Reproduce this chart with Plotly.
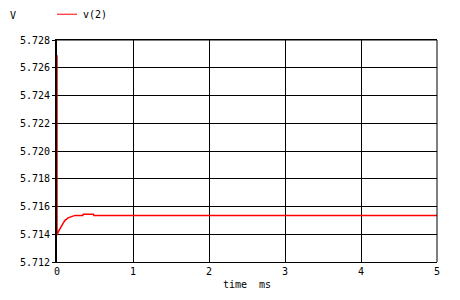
import plotly.graph_objects as go

# time in ms, voltage in V
time_ms = [0.0, 0.0, 0.02, 0.053, 0.08, 0.106, 0.146, 0.2, 0.24, 0.34, 0.345, 0.48, 0.485, 1.0, 2.0, 3.0, 4.0, 5.0]
v2 = [5.7269, 5.71393, 5.71421, 5.71457, 5.71479, 5.7150, 5.71518, 5.71529, 5.71536, 5.71536,
      5.71544, 5.71544, 5.71536, 5.71536, 5.71536, 5.71536, 5.71536, 5.71536]

x_ticks = [0, 1, 2, 3, 4, 5]
y_ticks = [5.712, 5.714, 5.716, 5.718, 5.720, 5.722, 5.724, 5.726, 5.728]
y_labels = ["5.712", "5.714", "5.716", "5.718", "5.720", "5.722", "5.724", "5.726", "5.728"]

FONT = "DejaVu Sans Mono"
PW, PH = 380, 224  # plot area size in px

fig = go.Figure()
fig.add_trace(go.Scatter(x=time_ms, y=v2, mode="lines", name="v(2)",
                         line=dict(color="#ff0000", width=1.5), cliponaxis=True))

fig.update_layout(
    width=460, height=300,
    margin=dict(l=57, r=23, t=40, b=36),
    paper_bgcolor="white", plot_bgcolor="white",
    font=dict(family=FONT, size=10, color="black"),
    showlegend=False,
    xaxis=dict(range=[0, 5], tickvals=x_ticks, ticktext=[str(t) for t in x_ticks],
               showgrid=True, gridcolor="black", gridwidth=1,
               zeroline=False, showline=True, linecolor="black", linewidth=1,
               mirror=True, ticks="", tickfont=dict(family=FONT, size=10),
               layer="below traces",
               title=dict(text="time  ms", font=dict(family=FONT, size=10), standoff=4)),
    yaxis=dict(range=[5.712, 5.728], tickvals=y_ticks, ticktext=y_labels,
               showgrid=True, gridcolor="black", gridwidth=1,
               zeroline=False, showline=True, linecolor="black", linewidth=2,
               mirror=False, ticks="outside", ticklen=3, tickcolor="black",
               layer="below traces",
               tickfont=dict(family=FONT, size=10)),
    annotations=[
        dict(text="V", x=-49 / PW, y=1 + 25 / PH, xref="paper", yref="paper",
             xanchor="left", yanchor="middle", showarrow=False,
             font=dict(family=FONT, size=10)),
        dict(text="v(2)", x=24 / PW, y=1 + 26 / PH, xref="paper", yref="paper",
             xanchor="left", yanchor="middle", showarrow=False,
             font=dict(family=FONT, size=10)),
    ],
)
# legend sample line
fig.add_shape(type="line", xref="paper", yref="paper", x0=0, x1=20 / PW,
              y0=1 + 26 / PH, y1=1 + 26 / PH, line=dict(color="#ff0000", width=1))
# right and top border
fig.add_shape(type="line", xref="paper", yref="paper", x0=1, x1=1, y0=0, y1=1,
              line=dict(color="black", width=1))
fig.add_shape(type="line", xref="paper", yref="paper", x0=0, x1=1, y0=1, y1=1,
              line=dict(color="black", width=1))

fig.write_html("out.html")
